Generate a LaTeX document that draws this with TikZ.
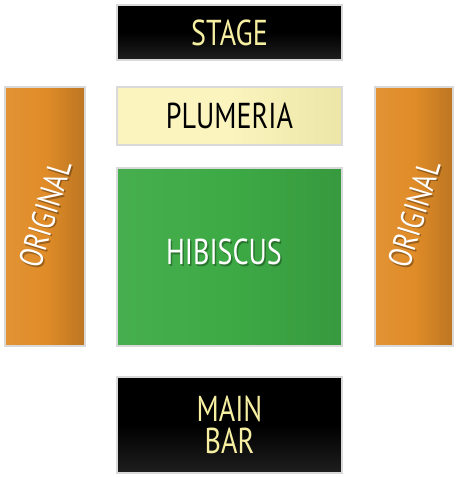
\documentclass[tikz,border=0pt]{standalone}
\usepackage{fontspec}
\setmainfont[FakeStretch=0.78]{PT Sans}
\definecolor{txtyel}{HTML}{F6EFA2}
\definecolor{plum}{HTML}{FBF4BE}
\definecolor{hib}{HTML}{3DAA45}
\definecolor{orng}{HTML}{E08C28}
\tikzset{
  x=1pt,y=-1pt,
  room/.style={draw=gray!30,line width=1.6pt},
  blackroom/.style={room,top color=black,bottom color=black!88,middle color=black},
  lbl/.style={font=\fontsize{36}{36}\selectfont,inner sep=0pt,align=center},
  olbl/.style={lbl,text=white,rotate=73,font=\fontsize{33}{33}\selectfont},
  shd/.style={text=black,opacity=0.3},
}
\begin{document}
\begin{tikzpicture}
\useasboundingbox (0,0) rectangle (459,477);
% stage
\path[blackroom] (117,5) rectangle (342,60);
\node[lbl,text=txtyel] (stage) at (229.5,33) {STAGE};
% plumeria
\path[room,left color=plum,right color=plum!88!olive,middle color=plum] (117,87) rectangle (342,145);
\node[lbl,text=black] (plumeria) at (229.5,116) {PLUMERIA};
% hibiscus
\path[room,left color=hib!95!white,right color=hib!90!black,middle color=hib] (117,168) rectangle (342,346);
\node[lbl,shd] at (225.5,253.5) {HIBISCUS};
\node[lbl,text=white] (hibiscus) at (224,252) {HIBISCUS};
% originals
\path[room,left color=orng!94!white,right color=orng!84!black,middle color=orng] (5,87) rectangle (85,346);
\node[olbl,shd] at (46.5,215.5) {ORIGINAL};
\node[olbl] (origl) at (45,214) {ORIGINAL};
\path[room,left color=orng!94!white,right color=orng!84!black,middle color=orng] (375,87) rectangle (453,346);
\node[olbl,shd] at (415.5,215.5) {ORIGINAL};
\node[olbl] (origr) at (414,214) {ORIGINAL};
% main bar
\path[blackroom] (117,377) rectangle (342,473);
\node[lbl,text=txtyel] (mainbar) at (229.5,425) {MAIN\\[-4pt]BAR};
\end{tikzpicture}
\end{document}
